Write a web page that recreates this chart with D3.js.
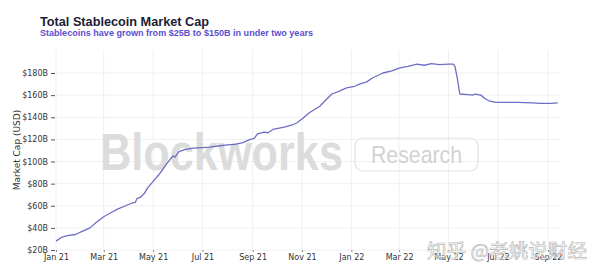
<!DOCTYPE html>
<html>
<head>
<meta charset="utf-8">
<script src="https://cdn.jsdelivr.net/npm/d3@7"></script>
<style>
  body { margin: 0; background: #fff; }
  svg { display: block; }
</style>
</head>
<body>
<svg id="chart"></svg>
<script>
const title = "Total Stablecoin Market Cap";
const subtitle = "Stablecoins have grown from $25B to $150B in under two years";
const yLabel = "Market Cap (USD)";

// billions of USD
const dates = [
  "2021-01-01", "2021-01-08", "2021-01-15", "2021-01-25", "2021-02-03", "2021-02-12",
  "2021-02-20", "2021-03-01", "2021-03-08", "2021-03-18", "2021-03-28", "2021-04-05",
  "2021-04-09", "2021-04-11", "2021-04-15", "2021-04-20", "2021-04-24", "2021-05-01",
  "2021-05-08", "2021-05-13", "2021-05-18", "2021-05-22", "2021-05-26", "2021-05-28",
  "2021-06-02", "2021-06-10", "2021-06-20", "2021-07-01", "2021-07-10", "2021-07-20",
  "2021-08-01", "2021-08-10", "2021-08-20", "2021-08-29", "2021-09-03", "2021-09-07",
  "2021-09-15", "2021-09-20", "2021-09-26", "2021-10-10", "2021-10-20", "2021-10-26",
  "2021-11-02", "2021-11-10", "2021-11-23", "2021-12-01", "2021-12-08", "2021-12-15",
  "2021-12-26", "2022-01-05", "2022-01-11", "2022-01-20", "2022-01-27", "2022-02-09",
  "2022-02-20", "2022-03-02", "2022-03-12", "2022-03-23", "2022-04-01", "2022-04-10",
  "2022-04-20", "2022-05-01", "2022-05-07", "2022-05-09", "2022-05-12", "2022-05-15",
  "2022-05-25", "2022-05-31", "2022-06-03", "2022-06-10", "2022-06-15", "2022-06-21",
  "2022-06-29", "2022-07-12", "2022-07-25", "2022-08-13", "2022-08-22", "2022-09-05",
  "2022-09-13"
];
const marketCap = [
  28, 31.5, 33, 34, 37, 40,
  45, 50, 53, 57, 60, 62.5,
  63, 66.5, 67.5, 71, 76, 82,
  88, 93, 98, 102, 105, 104,
  109, 111, 112, 112.5, 113, 114,
  115, 115.5, 117, 120, 121, 125,
  126.5, 126, 129, 131, 133, 135,
  139, 144, 150, 156, 161, 163,
  166.5, 168, 170, 172, 175.5, 180,
  182, 184.6, 186, 188, 187, 188.5,
  187.5, 188, 188, 186, 175, 161,
  160.5, 160, 161, 160, 157, 154.5,
  153.5, 153.5, 153.5, 153, 152.5, 152.5,
  153
];
const yTicks = [20, 40, 60, 80, 100, 120, 140, 160, 180];
const xTicks = ["2021-01-01", "2021-03-01", "2021-05-01", "2021-07-01", "2021-09-01",
  "2021-11-01", "2022-01-01", "2022-03-01", "2022-05-01", "2022-07-01", "2022-09-01"];

const width = 600, height = 274;
const parse = d3.utcParse("%Y-%m-%d");
const data = dates.map((d, i) => [parse(d), marketCap[i]]);

const svg = d3.select("#chart").attr("width", width).attr("height", height);

const x = d3.scaleUtc()
  .domain([parse("2021-01-01"), parse("2022-09-01")])
  .range([56, 548]);
const y = d3.scaleLinear().domain([20, 180]).range([250, 73]);
const plotLeft = 56, plotRight = 560, plotTop = 50, plotBottom = 250;

// gridlines
svg.append("g")
  .selectAll("line.h")
  .data(yTicks)
  .join("line")
  .attr("x1", plotLeft).attr("x2", plotRight)
  .attr("y1", d => y(d)).attr("y2", d => y(d))
  .attr("stroke", "#f0f0f3");
svg.append("g")
  .selectAll("line.v")
  .data(xTicks.map(parse))
  .join("line")
  .attr("x1", d => x(d)).attr("x2", d => x(d))
  .attr("y1", plotTop).attr("y2", plotBottom)
  .attr("stroke", "#f0f0f3");

// watermark
svg.append("text")
  .attr("x", 100).attr("y", 170)
  .attr("textLength", 243).attr("lengthAdjust", "spacingAndGlyphs")
  .style("font", "bold 52px 'Liberation Sans', sans-serif")
  .attr("fill", "#dcdcdc")
  .text("Blockworks");
svg.append("rect")
  .attr("x", 355).attr("y", 138).attr("width", 123).attr("height", 33)
  .attr("rx", 8)
  .attr("fill", "none").attr("stroke", "#e2e2e2").attr("stroke-width", 1.2);
svg.append("text")
  .attr("x", 371).attr("y", 163)
  .attr("textLength", 91).attr("lengthAdjust", "spacingAndGlyphs")
  .style("font", "24px 'Liberation Sans', sans-serif")
  .attr("fill", "#d2d2d2")
  .text("Research");

// axes
const yAxis = svg.append("g")
  .attr("transform", `translate(${plotLeft - 1},0)`)
  .call(d3.axisLeft(y).tickValues(yTicks).tickSize(4).tickPadding(3)
    .tickFormat(d => "$" + d + "B"));
yAxis.select(".domain").remove();
yAxis.selectAll("line").attr("stroke", "#555");
yAxis.selectAll("text").style("font", "8px 'DejaVu Sans', sans-serif").attr("fill", "#333");

const xAxis = svg.append("g")
  .attr("transform", `translate(0,${plotBottom})`)
  .call(d3.axisBottom(x).tickValues(xTicks.map(parse)).tickSize(2).tickPadding(2)
    .tickFormat(d3.utcFormat("%b %y")));
xAxis.select(".domain").remove();
xAxis.selectAll("line").attr("stroke", "#888");
xAxis.selectAll("text").style("font", "8px 'DejaVu Sans', sans-serif").attr("fill", "#333");

svg.append("text")
  .attr("transform", "translate(20,150) rotate(-90)")
  .attr("text-anchor", "middle")
  .style("font", "9px 'DejaVu Sans', sans-serif")
  .attr("fill", "#333")
  .text(yLabel);

// line
const line = d3.line().x(d => x(d[0])).y(d => y(d[1]));
svg.append("path")
  .datum(data)
  .attr("fill", "none")
  .attr("stroke", "#6e6ec4")
  .attr("stroke-width", 1.3)
  .attr("stroke-linejoin", "round")
  .attr("d", line);

// titles
svg.append("text")
  .attr("x", 40).attr("y", 26)
  .style("font", "bold 12.7px 'Liberation Sans', sans-serif")
  .attr("fill", "#1c1c36")
  .text(title);
svg.append("text")
  .attr("x", 40).attr("y", 36)
  .attr("textLength", 273).attr("lengthAdjust", "spacingAndGlyphs")
  .style("font", "bold 8.5px 'Liberation Sans', sans-serif")
  .attr("fill", "#5a4fcf")
  .text(subtitle);

// zhihu watermark
svg.append("text")
  .attr("x", 427).attr("y", 258)
  .attr("textLength", 160).attr("lengthAdjust", "spacingAndGlyphs")
  .style("font", "19px 'Noto Sans CJK SC', sans-serif")
  .attr("fill", "rgba(255,255,255,0.75)")
  .attr("stroke", "#b5b5b5").attr("stroke-width", 0.6)
  .text("知乎 @老姚说财经");
</script>
</body>
</html>
